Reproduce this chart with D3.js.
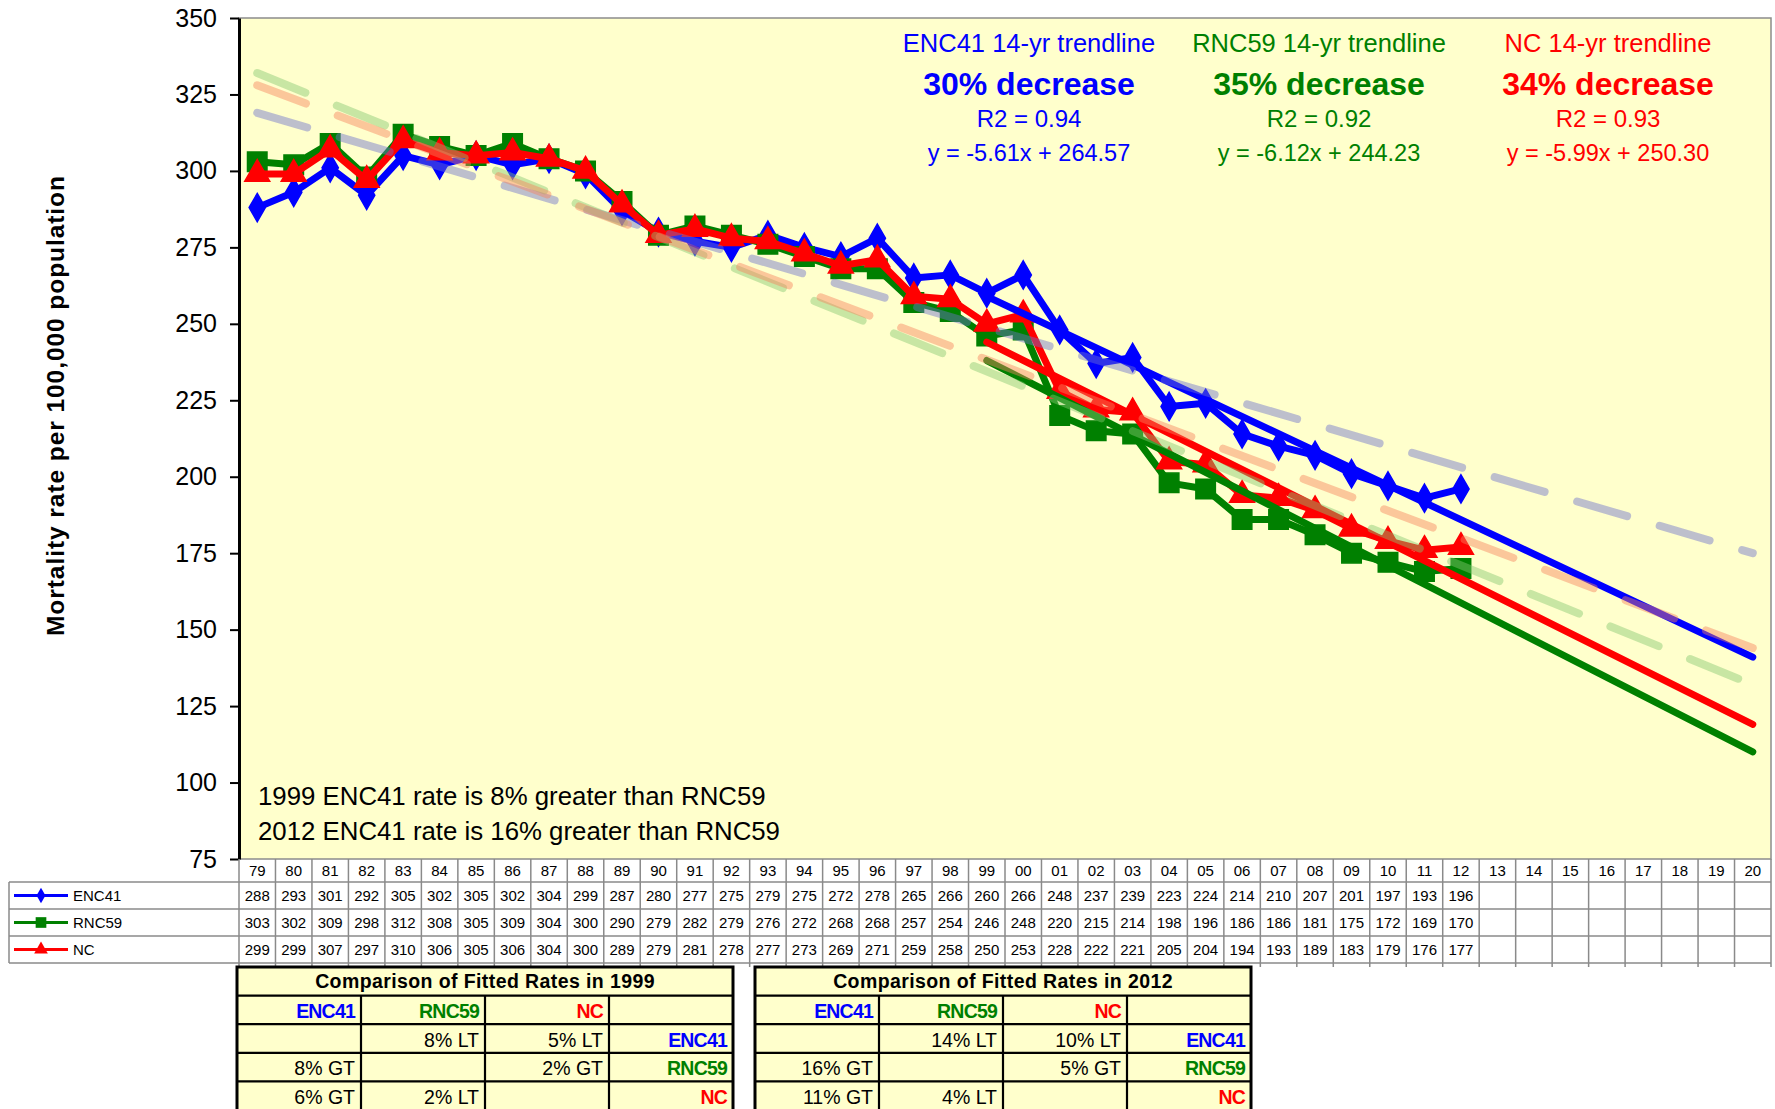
<!DOCTYPE html>
<html>
<head>
<meta charset="utf-8">
<script src="https://cdn.jsdelivr.net/npm/d3@7"></script>
<style>
  body { margin: 0; background: #fff; }
  svg { display: block; font-family: Arial, "Liberation Sans", sans-serif; }
</style>
</head>
<body>
<svg id="chart" width="1775" height="1109"></svg>
<script>
// categories (year labels on the x axis / data table)
const years = ["79","80","81","82","83","84","85","86","87","88","89","90","91","92","93","94","95","96",
  "97","98","99","00","01","02","03","04","05","06","07","08","09","10","11","12",
  "13","14","15","16","17","18","19","20"];

// mortality rates, 1979-2012
const enc41 = [288,293,301,292,305,302,305,302,304,299,287,280,277,275,279,275,272,278,
  265,266,260,266,248,237,239,223,224,214,210,207,201,197,193,196];
const rnc59 = [303,302,309,298,312,308,305,309,304,300,290,279,282,279,276,272,268,268,
  257,254,246,248,220,215,214,198,196,186,186,181,175,172,169,170];
const nc = [299,299,307,297,310,306,305,306,304,300,289,279,281,278,277,273,269,271,
  259,258,250,253,228,222,221,205,204,194,193,189,183,179,176,177];

const seriesNames = ["ENC41", "RNC59", "NC"];
const seriesColors = ["#0000ff", "#008000", "#ff0000"];
const fadedColors = ["#6c72cc", "#84c870", "#f7825e"];

// 14-yr trendlines (1999 -> 2020), values read at both ends
const trend14Start = [259, 238, 244];
const trend14End = [141, 110, 119];
// whole-period trendlines (1979 -> 2020)
const trendAllStart = [319, 332, 328];
const trendAllEnd = [175, 132, 144];

const trendTitles = ["ENC41 14-yr trendline", "RNC59 14-yr trendline", "NC 14-yr trendline"];
const decreaseLabels = ["30% decrease", "35% decrease", "34% decrease"];
const r2Labels = ["R2 = 0.94", "R2 = 0.92", "R2 = 0.93"];
const eqLabels = ["y = -5.61x + 264.57", "y = -6.12x + 244.23", "y = -5.99x + 250.30"];

const yTicks = [75, 100, 125, 150, 175, 200, 225, 250, 275, 300, 325, 350];

const notes = ["1999 ENC41 rate is 8% greater than RNC59", "2012 ENC41 rate is 16% greater than RNC59"];

const cmp1999 = [
  ["ENC41", "RNC59", "NC", ""],
  ["", "8% LT", "5% LT", "ENC41"],
  ["8% GT", "", "2% GT", "RNC59"],
  ["6% GT", "2% LT", "", "NC"]
];
const cmp2012 = [
  ["ENC41", "RNC59", "NC", ""],
  ["", "14% LT", "10% LT", "ENC41"],
  ["16% GT", "", "5% GT", "RNC59"],
  ["11% GT", "4% LT", "", "NC"]
];

const svg = d3.select('#chart');

// scales
const plot = { left: 239, right: 1771, top: 18, bottom: 859 };
const x = d3.scaleBand().domain(years).range([plot.left, plot.right]);
const y = d3.scaleLinear().domain([75, 350]).range([plot.bottom, plot.top]);
const cx = (k) => x(k) + x.bandwidth() / 2;

// plot background
svg.append('rect')
  .attr('x', plot.left).attr('y', plot.top)
  .attr('width', plot.right - plot.left).attr('height', plot.bottom - plot.top)
  .attr('fill', '#ffffcc')
  .attr('stroke', '#8c8c8c').attr('stroke-width', 1.5);

// y axis
const yAxis = svg.append('g')
  .attr('transform', `translate(${plot.left},0)`)
  .call(d3.axisLeft(y).tickValues(yTicks).tickSize(9).tickSizeOuter(0).tickPadding(13));
yAxis.select('.domain').attr('stroke', '#000').attr('stroke-width', 3);
yAxis.selectAll('.tick line').attr('stroke', '#000').attr('stroke-width', 2);
yAxis.selectAll('.tick text')
  .attr('font-size', 25).attr('font-family', 'Arial, "Liberation Sans", sans-serif').attr('fill', '#000');

svg.append('text')
  .attr('transform', 'translate(64,406) rotate(-90)')
  .attr('text-anchor', 'middle')
  .attr('font-size', 24.5).attr('font-weight', 'bold')
  .attr('textLength', 460).attr('lengthAdjust', 'spacing')
  .text('Mortality rate per 100,000  population');

// series definitions
const symbols = [d3.symbolDiamond, d3.symbolSquare, d3.symbolTriangle];
const symbolSizes = [230, 380, 270];
const series = seriesNames.map((name, i) => ({
  name: name,
  color: seriesColors[i],
  values: [enc41, rnc59, nc][i],
  symbol: symbols[i],
  size: symbolSizes[i]
}));

const line = d3.line()
  .x((d) => cx(d.k))
  .y((d) => y(d.v));

// data lines and markers
series.forEach((s) => {
  const pts = s.values.map((v, i) => ({ k: years[i], v: v }));
  svg.append('path')
    .datum(pts)
    .attr('d', line)
    .attr('fill', 'none')
    .attr('stroke', s.color)
    .attr('stroke-width', 7)
    .attr('stroke-linejoin', 'round');
  svg.append('g')
    .selectAll('path')
    .data(pts)
    .join('path')
    .attr('transform', (d) => `translate(${cx(d.k)},${y(d.v)})`)
    .attr('d', d3.symbol().type(s.symbol).size(s.size))
    .attr('fill', s.color)
    .attr('stroke', s.color)
    .attr('stroke-width', 1.5);
});

// 14-yr trendlines (solid)
series.forEach((s, i) => {
  svg.append('path')
    .datum([{ k: '99', v: trend14Start[i] }, { k: '20', v: trend14End[i] }])
    .attr('d', line)
    .attr('fill', 'none')
    .attr('stroke', s.color)
    .attr('stroke-width', 7)
    .attr('stroke-linecap', 'round');
});

// whole-period trendlines (faded, long dash)
series.forEach((s, i) => {
  svg.append('path')
    .datum([{ k: '79', v: trendAllStart[i] }, { k: '20', v: trendAllEnd[i] }])
    .attr('d', line)
    .attr('fill', 'none')
    .attr('stroke', fadedColors[i])
    .attr('stroke-opacity', 0.45)
    .attr('stroke-width', 8)
    .attr('stroke-linecap', 'round')
    .attr('stroke-dasharray', '52,34');
});

// trendline annotations
const annoX = [1029, 1319, 1608];
series.forEach((s, i) => {
  const g = svg.append('g').attr('fill', s.color).attr('text-anchor', 'middle');
  g.append('text').attr('x', annoX[i]).attr('y', 52).attr('font-size', 25.5).text(trendTitles[i]);
  g.append('text').attr('x', annoX[i]).attr('y', 95).attr('font-size', 32).attr('font-weight', 'bold').text(decreaseLabels[i]);
  g.append('text').attr('x', annoX[i]).attr('y', 127).attr('font-size', 24).text(r2Labels[i]);
  g.append('text').attr('x', annoX[i]).attr('y', 161).attr('font-size', 23.5).text(eqLabels[i]);
});

// notes in lower left
svg.append('g')
  .selectAll('text')
  .data(notes)
  .join('text')
  .attr('x', 258)
  .attr('y', (d, i) => 805 + i * 35)
  .attr('font-size', 25.8)
  .attr('fill', '#000')
  .text((d) => d);

// ---------- data table under the chart ----------
const gridColor = '#8a8a8a';
const rowY = [plot.bottom, 882, 909, 936, 963];
const table = svg.append('g');

// vertical column lines
table.selectAll('line.col')
  .data(years.concat(['end']))
  .join('line')
  .attr('class', 'col')
  .attr('x1', (d) => d === 'end' ? plot.right : x(d))
  .attr('x2', (d) => d === 'end' ? plot.right : x(d))
  .attr('y1', plot.bottom)
  .attr('y2', 967)
  .attr('stroke', gridColor).attr('stroke-width', 1.5);

// horizontal row lines
table.selectAll('line.row')
  .data(rowY.slice(1))
  .join('line')
  .attr('class', 'row')
  .attr('x1', 9).attr('x2', plot.right)
  .attr('y1', (d) => d).attr('y2', (d) => d)
  .attr('stroke', gridColor).attr('stroke-width', 1.5);

table.append('line')
  .attr('x1', 9).attr('x2', 9).attr('y1', 882).attr('y2', 963)
  .attr('stroke', gridColor).attr('stroke-width', 1.5);

// year labels
table.selectAll('text.year')
  .data(years)
  .join('text')
  .attr('class', 'year')
  .attr('x', (d) => cx(d))
  .attr('y', 876)
  .attr('text-anchor', 'middle')
  .attr('font-size', 15)
  .text((d) => d);

// values
series.forEach((s, r) => {
  const yMid = (rowY[r + 1] + rowY[r + 2]) / 2;
  table.append('g')
    .selectAll('text')
    .data(s.values)
    .join('text')
    .attr('x', (d, i) => cx(years[i]))
    .attr('y', yMid + 5.5)
    .attr('text-anchor', 'middle')
    .attr('font-size', 15)
    .text((d) => d);

  // legend key
  table.append('line')
    .attr('x1', 14).attr('x2', 68).attr('y1', yMid).attr('y2', yMid)
    .attr('stroke', s.color).attr('stroke-width', 3);
  table.append('path')
    .attr('transform', `translate(41,${yMid})`)
    .attr('d', d3.symbol().type(s.symbol).size(s.size * 0.3))
    .attr('fill', s.color);
  table.append('text')
    .attr('x', 73).attr('y', yMid + 5.5)
    .attr('font-size', 15)
    .text(s.name);
});

// ---------- comparison tables ----------
function drawComparison(x0, x1, title, rows) {
  const g = svg.append('g');
  const col = d3.scaleBand().domain(d3.range(4)).range([x0, x1]);
  const row = d3.scaleBand().domain(d3.range(5)).range([967, 1110]);

  g.append('rect')
    .attr('x', x0).attr('y', 967)
    .attr('width', x1 - x0).attr('height', 150)
    .attr('fill', '#ffffcc');

  // horizontal lines
  g.selectAll('line.h')
    .data(d3.range(1, 5))
    .join('line')
    .attr('x1', x0).attr('x2', x1)
    .attr('y1', (d) => row(d)).attr('y2', (d) => row(d))
    .attr('stroke', '#000').attr('stroke-width', 2.2);

  // vertical lines (below the title row)
  g.selectAll('line.v')
    .data(d3.range(1, 4))
    .join('line')
    .attr('x1', (d) => col(d)).attr('x2', (d) => col(d))
    .attr('y1', row(1)).attr('y2', 1110)
    .attr('stroke', '#000').attr('stroke-width', 2.2);

  // outer border
  g.append('rect')
    .attr('x', x0).attr('y', 967)
    .attr('width', x1 - x0).attr('height', 150)
    .attr('fill', 'none')
    .attr('stroke', '#000').attr('stroke-width', 3);

  g.append('text')
    .attr('x', (x0 + x1) / 2).attr('y', 988)
    .attr('text-anchor', 'middle')
    .attr('font-size', 19.5).attr('font-weight', 'bold')
    .attr('letter-spacing', 0.4)
    .text(title);

  rows.forEach((cells, r) => {
    cells.forEach((txt, c) => {
      if (!txt) return;
      const idx = seriesNames.indexOf(txt);
      const t = g.append('text')
        .attr('x', col(c) + col.bandwidth() - 6)
        .attr('y', row(r + 1) + row.bandwidth() - 6)
        .attr('text-anchor', 'end')
        .attr('font-size', 19.5)
        .text(txt);
      if (idx >= 0) {
        t.attr('fill', seriesColors[idx]).attr('font-weight', 'bold').attr('letter-spacing', -0.8);
      }
    });
  });
}

drawComparison(237, 733, 'Comparison of Fitted Rates in 1999', cmp1999);
drawComparison(755, 1251, 'Comparison of Fitted Rates in 2012', cmp2012);
</script>
</body>
</html>
